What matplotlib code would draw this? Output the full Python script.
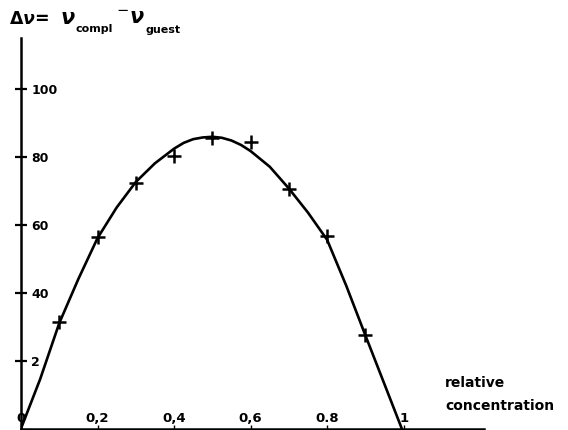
import numpy as np
from matplotlib import pyplot as plt

# measured points (+ markers)
conc = [0.1, 0.2, 0.3, 0.4, 0.5, 0.6, 0.7, 0.8, 0.9]
delta_nu = [31.2, 56.2, 72.3, 80.2, 85.4, 84.4, 70.5, 56.6, 27.4]

# hand-drawn smooth curve
curve_x = [0, 0.05, 0.1, 0.15, 0.2, 0.25, 0.3, 0.35, 0.4, 0.425, 0.45,
           0.475, 0.5, 0.525, 0.55, 0.575, 0.6, 0.65, 0.7, 0.75, 0.8,
           0.85, 0.9, 0.95, 0.995]
curve_y = [0, 14.5, 31, 44, 56, 65, 72.5, 78, 82.3, 84, 85.1,
           85.6, 85.8, 85.5, 84.7, 83.4, 81.6, 77.0, 70.6, 63.5, 55.5,
           42, 27.4, 13, 0]

xticks = [0, 0.2, 0.4, 0.6, 0.8, 1.0]
xtick_labels = ['0', '0,2', '0,4', '0,6', '0.8', '1']
yticks = [20, 40, 60, 80, 100]
ytick_labels = ['2', '40', '60', '80', '100']

plt.rcParams['mathtext.fontset'] = 'dejavusans'

W, H = 568, 431
fig = plt.figure(figsize=(W / 100, H / 100), dpi=100)
ax = fig.add_axes([21 / W, 1.5 / H, 463 / W, 391 / H])

ax.plot(curve_x, curve_y, color='black', linewidth=1.9,
        solid_capstyle='round', solid_joinstyle='round')
ax.plot(conc, delta_nu, linestyle='none', marker='+', markersize=10,
        markeredgewidth=1.8, color='black')

ax.set_xlim(0, 1.21)
ax.set_ylim(0, 115)

for side in ['top', 'right']:
    ax.spines[side].set_visible(False)
for side in ['left', 'bottom']:
    ax.spines[side].set_linewidth(1.8)
    ax.spines[side].set_color('black')

ax.set_yticks(yticks, ytick_labels)
ax.tick_params(axis='y', direction='inout', length=9, width=1.6, pad=-12,
               labelsize=9)
for lbl in ax.get_yticklabels():
    lbl.set_ha('left')
    lbl.set_fontweight('bold')

ax.set_xticks(xticks, xtick_labels)
ax.tick_params(axis='x', direction='in', length=3, width=1.0, pad=-3,
               labelsize=9.5)
for lbl in ax.get_xticklabels():
    lbl.set_va('bottom')
    lbl.set_fontweight('bold')

# axis titles
fig.text(445 / W, 1 - 387 / H, 'relative', fontsize=10, fontweight='bold',
         ha='left', va='baseline')
fig.text(445 / W, 1 - 410 / H, 'concentration', fontsize=10, fontweight='bold',
         ha='left', va='baseline')

fig.text(9 / W, 1 - 24 / H, r'$\boldsymbol{\Delta\nu}$=', fontsize=12.5,
         fontweight='bold', ha='left', va='baseline')
fig.text(60 / W, 1 - 24 / H, r'$\boldsymbol{\nu}$', fontsize=15,
         ha='left', va='baseline')
fig.text(75 / W, 1 - 32 / H, 'compl', fontsize=8, fontweight='bold',
         ha='left', va='baseline')
fig.text(116 / W, 1 - 24 / H, r'$^{-}\boldsymbol{\nu}$', fontsize=15,
         ha='left', va='baseline')
fig.text(145 / W, 1 - 33 / H, 'guest', fontsize=8, fontweight='bold',
         ha='left', va='baseline')

plt.savefig('out.png', dpi=100)
